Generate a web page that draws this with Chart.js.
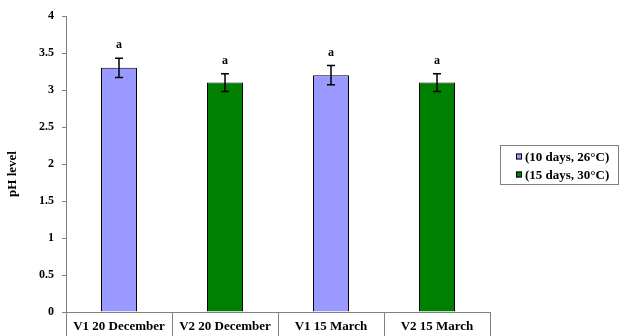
<!DOCTYPE html>
<html>
<head>
<meta charset="utf-8">
<script src="https://cdn.jsdelivr.net/npm/chart.js@4"></script>
<style>
  html, body { margin: 0; padding: 0; background: #ffffff; }
  #wrap { width: 622px; height: 336px; position: relative; }
</style>
</head>
<body>
<div id="wrap"><canvas id="chart"></canvas></div>
<script>
// Samples and treatments
const categories = ['V1 20 December', 'V2 20 December', 'V1 15 March', 'V2 15 March'];
const seriesNames = ['(10 days, 26°C)', '(15 days, 30°C)'];

// Mean pH per sample (null where the treatment does not apply)
const phShort = [3.3, null, 3.2, null];
const phLong  = [null, 3.1, null, 3.1];

// Standard errors
const errShort = [0.13, null, 0.13, null];
const errLong  = [null, 0.12, null, 0.12];

// Significance letters
const letters = ['a', 'a', 'a', 'a'];

// Value axis
const yMin = 0, yMax = 4, yStep = 0.5;
const yTitle = 'pH level';

const FONT = "'Liberation Serif', 'Times New Roman', serif";
const errors = [errShort, errLong];

// Error bars and significance letters above each bar
const errorBarPlugin = {
  id: 'errorBars',
  afterDatasetsDraw(chart) {
    const ctx = chart.ctx;
    const y = chart.scales.y;
    ctx.save();
    chart.data.datasets.forEach((ds, di) => {
      const meta = chart.getDatasetMeta(di);
      ds.data.forEach((v, i) => {
        if (v === null) return;
        const e = errors[di][i];
        const el = meta.data[i];
        const x = el.x;
        const top = y.getPixelForValue(v + e);
        const bot = y.getPixelForValue(v - e);
        ctx.strokeStyle = '#000';
        ctx.lineWidth = 1.5;
        ctx.beginPath();
        ctx.moveTo(x, top); ctx.lineTo(x, bot);
        ctx.moveTo(x - 4, top); ctx.lineTo(x + 4, top);
        ctx.moveTo(x - 4, bot); ctx.lineTo(x + 4, bot);
        ctx.stroke();
        ctx.fillStyle = '#000';
        ctx.font = 'bold 12px ' + FONT;
        ctx.textAlign = 'center';
        ctx.textBaseline = 'alphabetic';
        ctx.fillText(letters[i], x, top - 10);
      });
    });
    ctx.restore();
  }
};

// Rotated value-axis title, set a little below the middle of the axis
const axisTitlePlugin = {
  id: 'axisTitle',
  afterDraw(chart) {
    const ctx = chart.ctx;
    const y = chart.scales.y;
    ctx.save();
    ctx.translate(y.left + 13, (y.top + y.bottom) / 2 + 10);
    ctx.rotate(-Math.PI / 2);
    ctx.font = 'bold 13px ' + FONT;
    ctx.fillStyle = '#000';
    ctx.textAlign = 'center';
    ctx.textBaseline = 'middle';
    ctx.fillText(yTitle, 0, 0);
    ctx.restore();
  }
};

// Boxed legend to the right of the plot
const boxLegendPlugin = {
  id: 'boxLegend',
  afterDraw(chart) {
    const ctx = chart.ctx;
    const area = chart.chartArea;
    const w = 118, h = 39;
    const left = area.right + 10;
    const top = Math.round((area.top + area.bottom) / 2 - h / 2) + 0.5;
    ctx.save();
    ctx.strokeStyle = '#808080';
    ctx.lineWidth = 1;
    ctx.strokeRect(left + 0.5, top, w, h);
    ctx.font = 'bold 13px ' + FONT;
    ctx.textAlign = 'left';
    ctx.textBaseline = 'middle';
    chart.data.datasets.forEach((ds, di) => {
      const cy = top + 11 + di * 18;
      ctx.fillStyle = ds.backgroundColor;
      ctx.fillRect(left + 16, cy - 3, 6, 6);
      ctx.strokeStyle = '#000';
      ctx.strokeRect(left + 16.5, cy - 2.5, 5, 5);
      ctx.fillStyle = '#000';
      ctx.fillText(ds.label, left + 25, cy + 1);
    });
    ctx.restore();
  }
};

new Chart(document.getElementById('chart'), {
  type: 'bar',
  data: {
    labels: categories,
    datasets: [
      { label: seriesNames[0], data: phShort, backgroundColor: '#9999FF', borderColor: '#000', borderWidth: 1 },
      { label: seriesNames[1], data: phLong,  backgroundColor: '#008000', borderColor: '#000', borderWidth: 1 }
    ]
  },
  options: {
    responsive: true,
    maintainAspectRatio: false,
    animation: false,
    layout: { padding: { top: 16, right: 132, bottom: 0, left: 0 } },
    datasets: { bar: { categoryPercentage: 1, barPercentage: 0.34 } },
    plugins: {
      legend: { display: false },
      tooltip: { enabled: false }
    },
    scales: {
      x: {
        stacked: true,
        offset: true,
        grid: { display: true, offset: true, drawOnChartArea: false, drawTicks: true, tickLength: 24, color: '#808080' },
        border: { display: true, color: '#808080' },
        ticks: { padding: -17, color: '#000', font: { family: FONT, size: 13, weight: 'bold' }, maxRotation: 0 },
        afterFit(scale) { scale.height = 24; }
      },
      y: {
        min: yMin, max: yMax,
        grid: { display: true, drawOnChartArea: false, drawTicks: true, tickLength: 4, color: '#808080' },
        border: { display: true, color: '#808080' },
        ticks: {
          stepSize: yStep, padding: 8, color: '#000',
          font: { family: FONT, size: 12, weight: 'bold' },
          callback: (v) => String(Number(v))
        },
        title: { display: false },
        afterFit(scale) { scale.width = 66; }
      }
    }
  },
  plugins: [errorBarPlugin, axisTitlePlugin, boxLegendPlugin]
});
</script>
</body>
</html>
